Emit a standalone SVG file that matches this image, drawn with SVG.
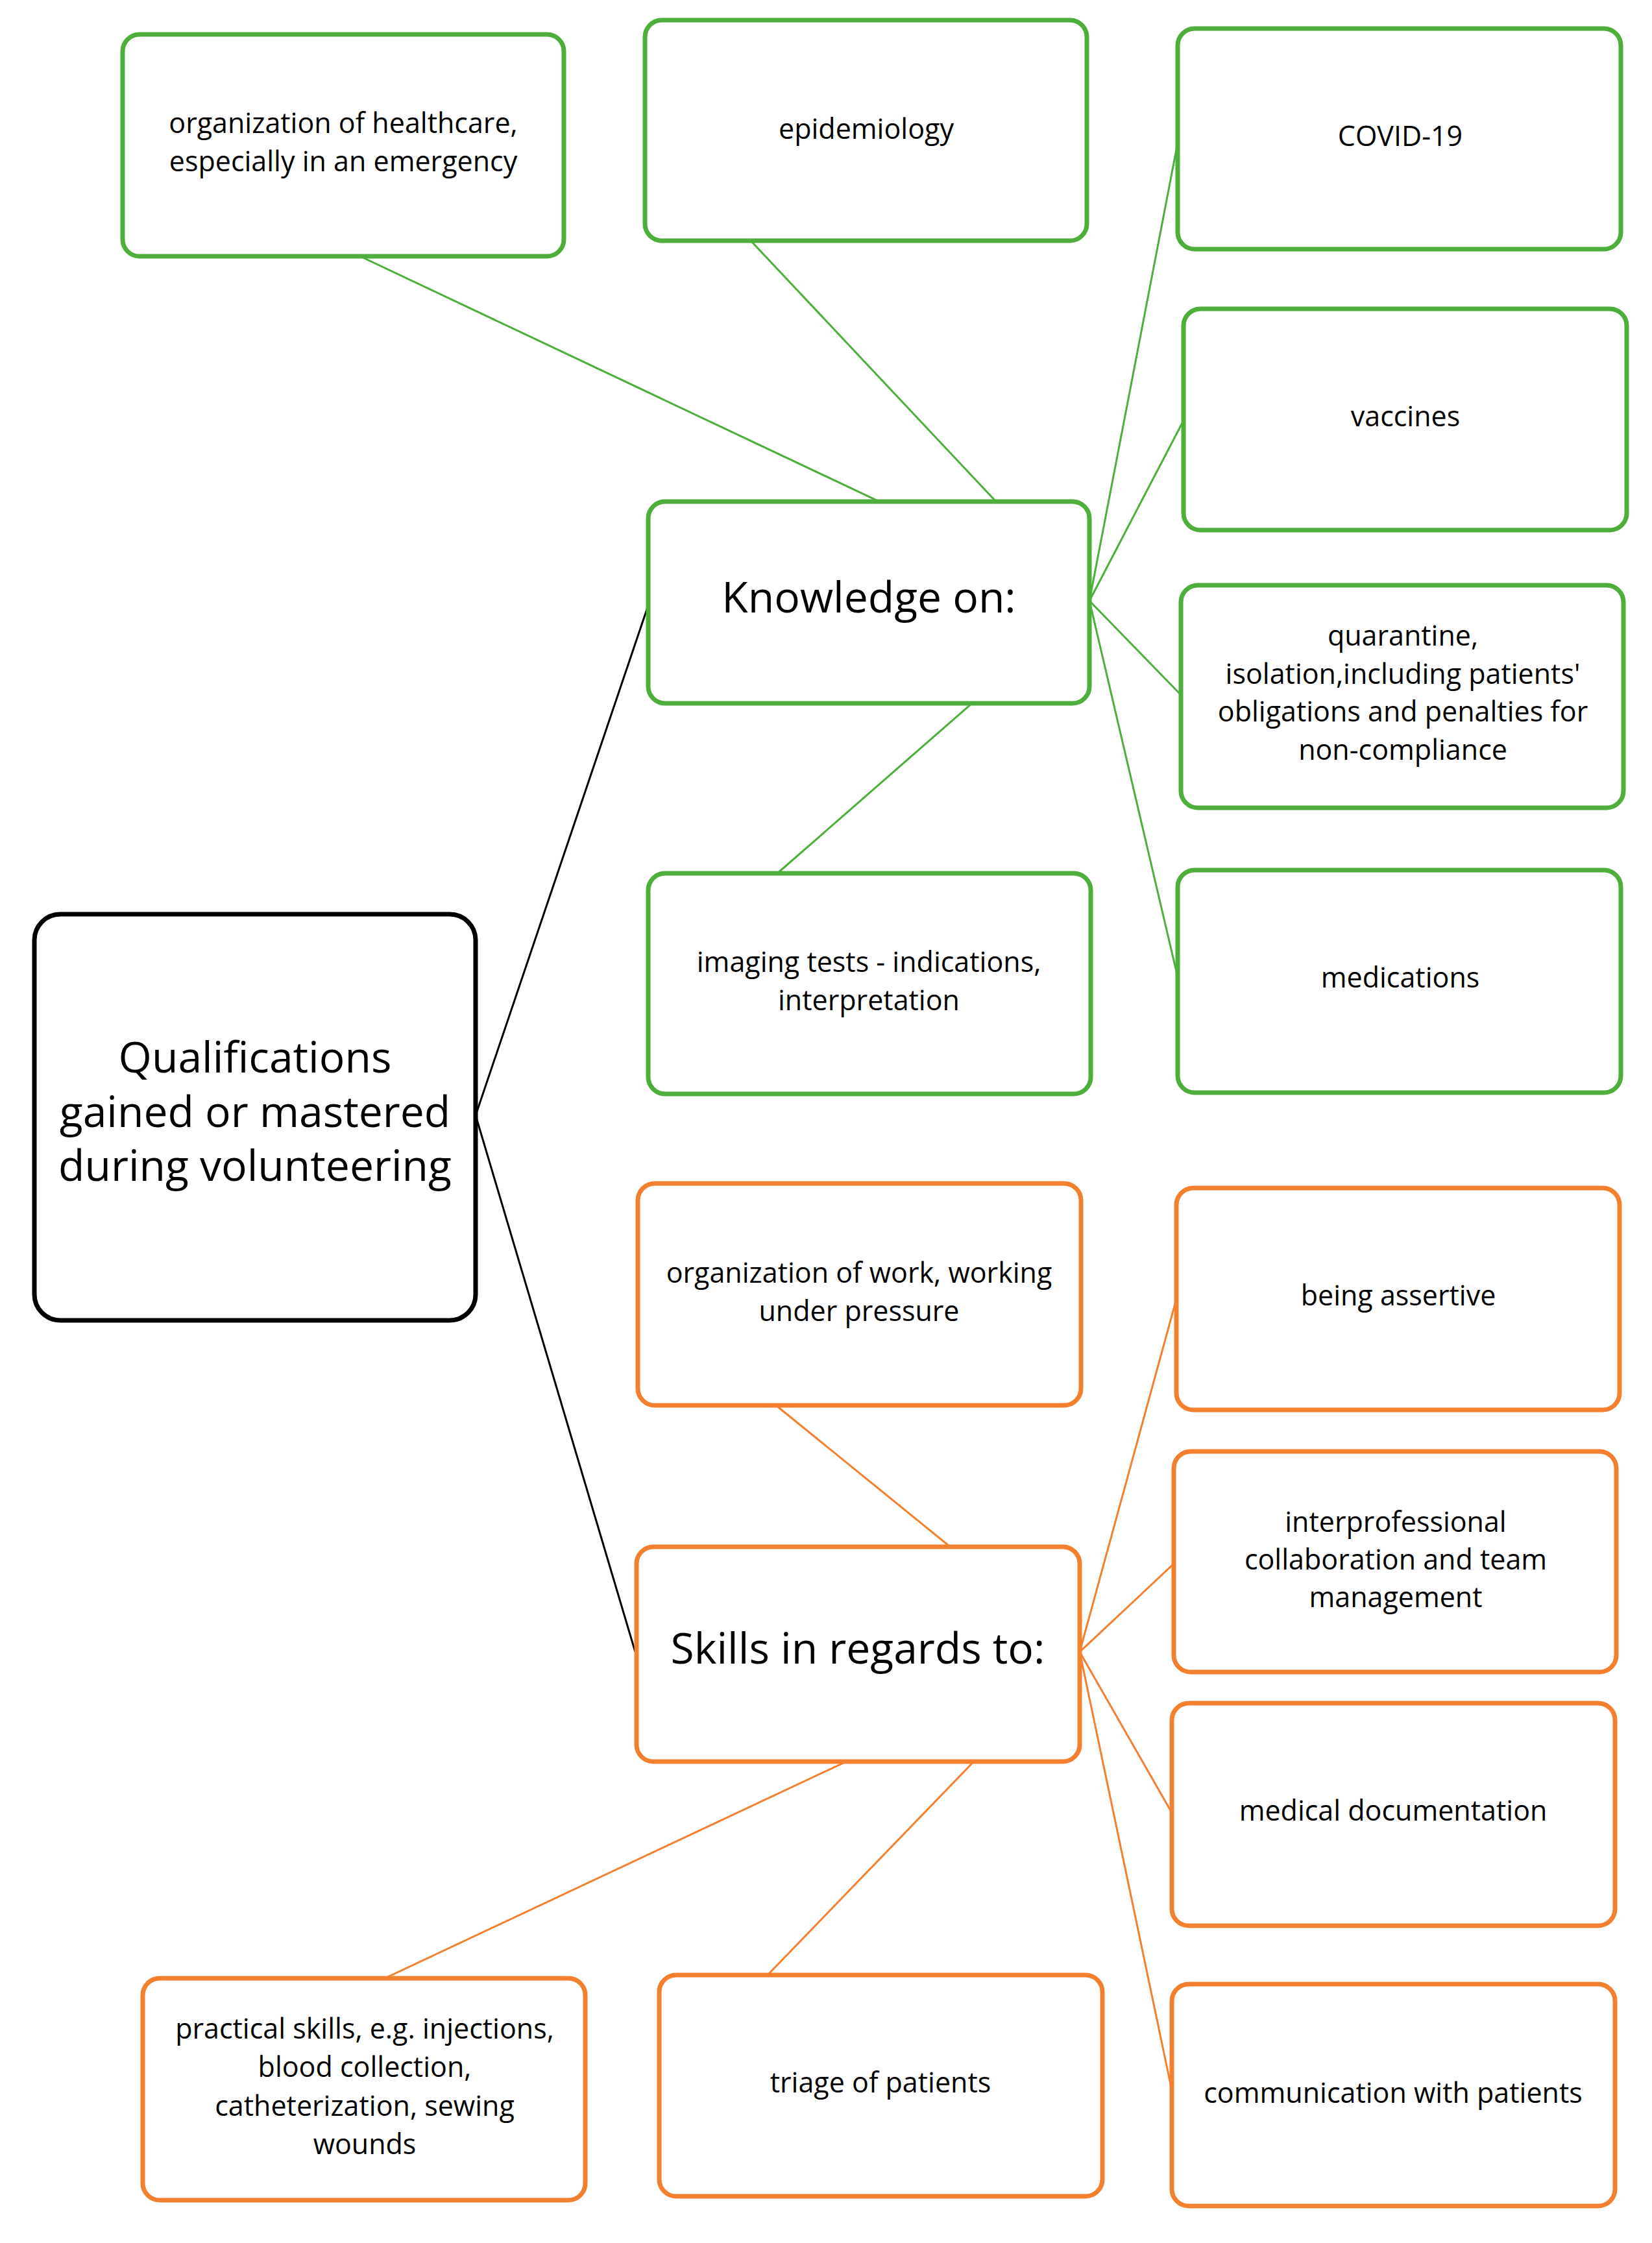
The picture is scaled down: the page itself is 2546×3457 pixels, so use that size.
<svg xmlns="http://www.w3.org/2000/svg" width="2546" height="3457" viewBox="0 0 2546 3457">
<style>
.g{fill:#fff;stroke:#4eae3c;stroke-width:7}
.o{fill:#fff;stroke:#f4802f;stroke-width:7}
.k{fill:#fff;stroke:#000;stroke-width:7}
text{font-family:"Open Sans","Liberation Sans",sans-serif;font-size:43px;fill:#000;text-anchor:middle;dominant-baseline:middle}
.big{font-size:66px}
.gl{stroke:#4eae3c;stroke-width:3}
.ol{stroke:#f4802f;stroke-width:3}
.bl{stroke:#000;stroke-width:3}
</style>
<rect width="2546" height="3457" fill="#fff"/>
<g id="connectors">
<line class="bl" x1="733" y1="1719" x2="999" y2="933"/>
<line class="bl" x1="733" y1="1719" x2="979" y2="2546"/>
<line class="gl" x1="1679" y1="926" x2="555" y2="395"/>
<line class="gl" x1="1679" y1="926" x2="1157" y2="371"/>
<line class="gl" x1="1679" y1="926" x2="1815" y2="220"/>
<line class="gl" x1="1679" y1="926" x2="1824" y2="648"/>
<line class="gl" x1="1679" y1="926" x2="1820" y2="1071"/>
<line class="gl" x1="1679" y1="926" x2="1815" y2="1506"/>
<line class="gl" x1="1679" y1="926" x2="1198" y2="1346"/>
<line class="ol" x1="1664" y1="2546" x2="1196" y2="2166"/>
<line class="ol" x1="1664" y1="2546" x2="1813" y2="2002"/>
<line class="ol" x1="1664" y1="2546" x2="1809" y2="2410"/>
<line class="ol" x1="1664" y1="2546" x2="1806" y2="2794"/>
<line class="ol" x1="1664" y1="2546" x2="1806" y2="3222"/>
<line class="ol" x1="1664" y1="2546" x2="593" y2="3049"/>
<line class="ol" x1="1664" y1="2546" x2="1183" y2="3044"/>
</g>
<g id="central"><rect class="k" x="53" y="1409" width="680" height="626" rx="40"/>
<text class="big" x="393" y="1635">Qualifications</text><text class="big" x="393" y="1719">gained or mastered</text><text class="big" x="393" y="1802">during volunteering</text></g>
<g id="knowledge"><rect class="g" x="999" y="773" width="680" height="311" rx="26"/><text class="big" x="1339" y="926">Knowledge on:</text></g>
<g id="skills"><rect class="o" x="981" y="2384" width="683" height="331" rx="26"/><text class="big" x="1322" y="2546">Skills in regards to:</text></g>
<g id="healthcare"><rect class="g" x="189" y="53" width="680" height="342" rx="26"/><text x="529" y="193">organization of healthcare,</text><text x="529" y="252">especially in an emergency</text></g>
<g id="epidemiology"><rect class="g" x="994" y="31" width="681" height="340" rx="26"/><text x="1335" y="202">epidemiology</text></g>
<g id="covid"><rect class="g" x="1815" y="44" width="683" height="340" rx="26"/><text x="2158" y="213">COVID-19</text></g>
<g id="vaccines"><rect class="g" x="1824" y="476" width="683" height="341" rx="26"/><text x="2166" y="645">vaccines</text></g>
<g id="quarantine"><rect class="g" x="1820" y="902" width="682" height="343" rx="26"/><text x="2162" y="983">quarantine,</text><text x="2162" y="1042">isolation,including patients'</text><text x="2162" y="1100">obligations and penalties for</text><text x="2162" y="1159">non-compliance</text></g>
<g id="medications"><rect class="g" x="1815" y="1341" width="683" height="343" rx="26"/><text x="2158" y="1510">medications</text></g>
<g id="imaging"><rect class="g" x="999" y="1346" width="682" height="340" rx="26"/><text x="1339" y="1486">imaging tests - indications,</text><text x="1339" y="1545">interpretation</text></g>
<g id="orgwork"><rect class="o" x="983" y="1824" width="683" height="342" rx="26"/><text x="1324" y="1965">organization of work, working</text><text x="1324" y="2024">under pressure</text></g>
<g id="assertive"><rect class="o" x="1813" y="1831" width="683" height="342" rx="26"/><text x="2155" y="2000">being assertive</text></g>
<g id="interprof"><rect class="o" x="1809" y="2237" width="682" height="340" rx="26"/><text x="2151" y="2349">interprofessional</text><text x="2151" y="2407">collaboration and team</text><text x="2151" y="2465">management</text></g>
<g id="meddoc"><rect class="o" x="1806" y="2625" width="683" height="343" rx="26"/><text x="2147" y="2794">medical documentation</text></g>
<g id="communication"><rect class="o" x="1806" y="3058" width="683" height="342" rx="26"/><text x="2147" y="3229">communication with patients</text></g>
<g id="practical"><rect class="o" x="220" y="3049" width="682" height="342" rx="26"/><text x="562" y="3130">practical skills, e.g. injections,</text><text x="562" y="3189">blood collection,</text><text x="562" y="3249">catheterization, sewing</text><text x="562" y="3308">wounds</text></g>
<g id="triage"><rect class="o" x="1016" y="3044" width="683" height="341" rx="26"/><text x="1357" y="3213">triage of patients</text></g>
</svg>
